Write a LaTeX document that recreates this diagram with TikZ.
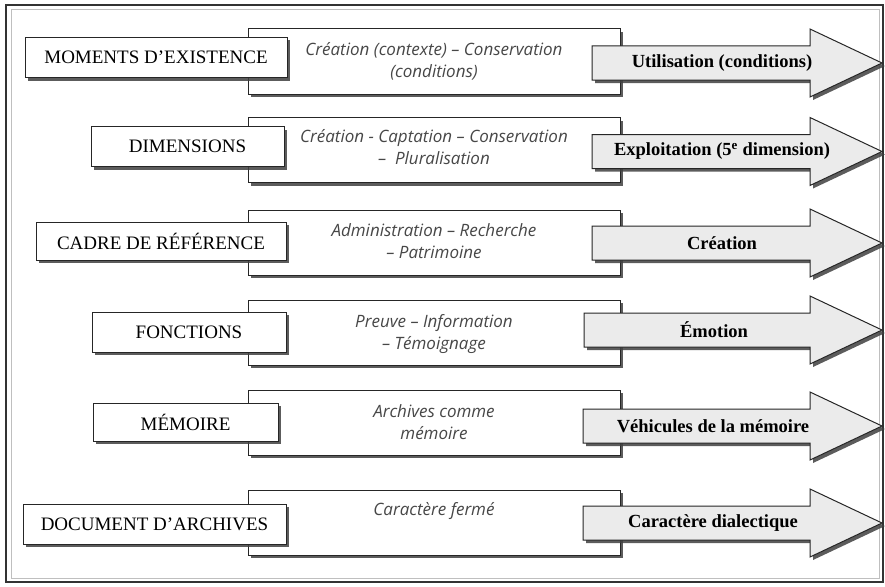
\documentclass[tikz,border=0pt]{standalone}
\usepackage{fontspec}
\setmainfont{Liberation Serif}
\newfontfamily\midfont{Open Sans}
\usetikzlibrary{shadows}

\tikzset{
  ombre/.style={drop shadow={shadow xshift=3pt,shadow yshift=-3pt,fill=black!75,opacity=.85}},
  etape/.style={draw=black!85,line width=1pt,fill=white,ombre,inner sep=0pt,
    minimum height=40pt,font=\fontsize{19}{21}\selectfont},
  cadre/.style={draw=black!85,line width=1pt,fill=white,ombre,
    minimum width=372pt,minimum height=65pt},
  contenu/.style={anchor=north,inner sep=0pt,align=center,text=black!72,
    font=\midfont\itshape\fontsize{17}{22}\selectfont},
  fleche/.style={draw=black!85,line width=1pt,fill=black!8,ombre},
  etiquette/.style={inner sep=0pt,font=\bfseries\fontsize{18.5}{20}\selectfont}
}

\begin{document}
\begin{tikzpicture}[x=1pt,y=-1pt]
    \useasboundingbox (0,0) rectangle (885,586);
    \draw[black!80,line width=1.2pt] (6,5) rectangle (883,582);
    \draw[black!25,line width=1pt] (11,10) rectangle (879,578);

    % middle boxes
    \node[cadre] (m1) at (434,61.5) {};
    \node[cadre] (m2) at (434,150) {};
    \node[cadre] (m3) at (434,242.5) {};
    \node[cadre] (m4) at (434,332.5) {};
    \node[cadre] (m5) at (434,422.5) {};
    \node[cadre] (m6) at (434,522.5) {};

    \node[contenu] (t1) at ([yshift=-14pt]m1.north) {Création (contexte) – Conservation\\(conditions)};
    \node[contenu] (t2) at ([yshift=-12pt]m2.north) {Création - Captation – Conservation\\– \ Pluralisation};
    \node[contenu] (t3) at ([yshift=-14pt]m3.north) {Administration – Recherche\\– Patrimoine};
    \node[contenu] (t4) at ([yshift=-15pt]m4.north) {Preuve – Information\\– Témoignage};
    \node[contenu] (t5) at ([yshift=-15pt]m5.north) {Archives comme\\mémoire};
    \node[contenu] (t6) at ([yshift=-13pt]m6.north) {Caractère fermé};

    % left boxes
    \node[etape,minimum width=262pt] (moments)    at (156,57.5)  {MOMENTS D’EXISTENCE};
    \node[etape,minimum width=193pt] (dimensions) at (187.5,146.5) {DIMENSIONS};
    \node[etape,minimum width=250pt,minimum height=38pt] (cadreref) at (161,241) {CADRE DE RÉFÉRENCE};
    \node[etape,minimum width=194pt] (fonctions)  at (189,332)   {FONCTIONS};
    \node[etape,minimum width=185pt,minimum height=38pt] (memoire) at (185.5,422) {MÉMOIRE};
    \node[etape,minimum width=263pt] (document)   at (154.5,524) {DOCUMENT D’ARCHIVES};

    % arrows
    \foreach \nom/\yy/\xx/\texte in {
        utilisation/63/592/{Utilisation (conditions)},
        exploitation/151.5/592/{Exploitation (5\textsuperscript{e} dimension)},
        creation/243/592/{Création},
        emotion/330/584/{Émotion},
        vehicules/426/583/{Véhicules de la mémoire},
        caractere/523/583/{Caractère dialectique}}{
      \draw[fleche] (\xx,\yy-17) -- (810,\yy-17) -- (810,\yy-34) -- (882,\yy)
        -- (810,\yy+34) -- (810,\yy+17) -- (\xx,\yy+17) -- cycle;
      \node[etiquette] (\nom) at (\xx+130,\yy) {\texte};
    }
\end{tikzpicture}
\end{document}
